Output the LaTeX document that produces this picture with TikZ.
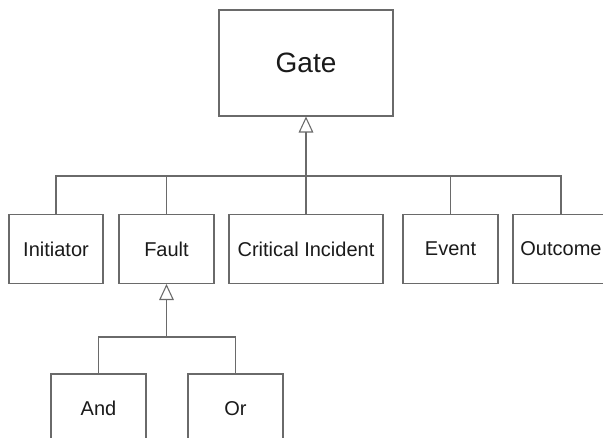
\documentclass[tikz,border=0pt]{standalone}
\usepackage{fontspec}
\setmainfont{Liberation Sans}
\usetikzlibrary{arrows.meta}
\definecolor{GTStroke}{HTML}{6A6A6A}
\definecolor{GTText}{HTML}{1A1A1A}
\tikzset{
  gatebox/.style={draw=GTStroke,fill=white,text=GTText,line width=0.8pt,minimum width=130.5pt,minimum height=79.5pt,font=\fontsize{21}{24}\selectfont},
  kindbox/.style={draw=GTStroke,fill=white,text=GTText,line width=0.8pt,minimum height=51.75pt,font=\fontsize{15}{18}\selectfont},
  treeline/.style={draw=GTStroke,line width=0.8pt},
  isa/.style={treeline,-{Triangle[open,length=12pt,width=11pt]}}
}

\begin{document}
\begin{tikzpicture}[x=0.75pt,y=-0.75pt]
  \useasboundingbox (0,0) rectangle (603,438);
  \clip (0,0) rectangle (603,438);
  \fill[white] (0,0) rectangle (603,438);

  \node[gatebox] (gate) at (306,63) {Gate};

  \node[kindbox,minimum width=70.5pt] (initiator) at (56,249) {Initiator};
  \node[kindbox,minimum width=71.25pt] (fault) at (166.5,249) {Fault};
  \node[kindbox,minimum width=115.5pt] (critical) at (306,249) {Critical Incident};
  \node[kindbox,minimum width=71.25pt] (event) at (450.5,249) {Event};
  \node[kindbox,minimum width=72pt] (outcome) at (561,249) {Outcome};

  \node[kindbox,minimum width=71.25pt] (and) at (98.5,408.5) {And};
  \node[kindbox,minimum width=71.25pt] (or) at (235.5,408.5) {Or};

  % gate hierarchy
  \coordinate (gatejoin) at (306,176);
  \draw[treeline] (initiator.north) |- (gatejoin) -| (outcome.north);
  \draw[treeline] (fault.north) -- (fault.north |- gatejoin);
  \draw[treeline] (event.north) -- (event.north |- gatejoin);
  \draw[isa] (critical.north) -- (gate.south);

  % fault hierarchy
  \coordinate (faultjoin) at (166.5,337);
  \draw[treeline] (and.north) |- (faultjoin) -| (or.north);
  \draw[isa] (faultjoin) -- (fault.south);
\end{tikzpicture}
\end{document}
